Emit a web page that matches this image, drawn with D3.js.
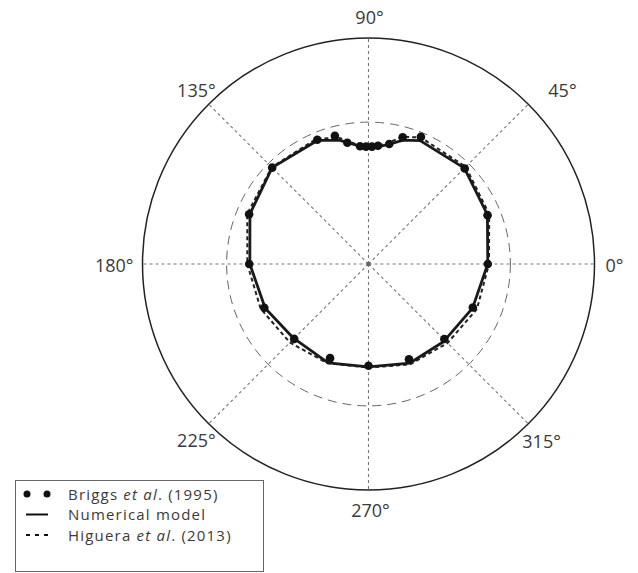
<!DOCTYPE html>
<html>
<head>
<meta charset="utf-8">
<script src="https://cdn.jsdelivr.net/npm/d3@7"></script>
<style>
  html, body { margin: 0; padding: 0; background: #fff; }
  svg { display: block; }
  text { font-family: "Open Sans", "Noto Sans", sans-serif; fill: #3a3a3a; }
</style>
</head>
<body>
<svg id="chart" width="638" height="573"></svg>
<script>
// Run-up contour around a conical island: horizontal radius (m) versus direction (deg)
const outerRadius = 3.6;      // island toe
const shorelineRadius = 2.26; // still-water shoreline
const gridAngles = [0, 45, 90, 135, 180, 225, 270, 315];
const gridLabels = ["0°", "45°", "90°", "135°", "180°", "225°", "270°", "315°"];

// Briggs et al. (1995) measurements
const briggsAngle = [0, 22.3, 44.8, 67.6, 74.9, 80.2, 85.4, 88.3, 91.2, 94.1, 99.9, 104.7, 112.4, 135,
                     157.4, 180, 202.8, 225.2, 247.8, 270, 293, 315.3, 337.4];
const briggsRunup = [1.90, 2.05, 2.16, 2.19, 2.09, 1.94, 1.89, 1.87, 1.87, 1.88, 1.96, 2.11, 2.14, 2.17,
                     2.06, 1.90, 1.80, 1.68, 1.62, 1.62, 1.65, 1.70, 1.80];

// Numerical model
const modelAngle = [0, 22.5, 45, 67.3, 74.3, 81.3, 89.6, 94.1, 103, 112.5, 135, 157.1, 180,
                    203.2, 224.7, 247.8, 270, 292.7, 313.9, 337];
const modelRunup = [1.90, 2.05, 2.16, 2.13, 2.05, 1.92, 1.84, 1.88, 2.02, 2.13, 2.17, 2.05, 1.89,
                    1.79, 1.68, 1.70, 1.64, 1.71, 1.72, 1.80];

// Higuera et al. (2013)
const higueraAngle = [0, 22.5, 45, 67.5, 75, 81, 90, 96, 103, 112.5, 135, 157.5, 180,
                      202.5, 225, 247.5, 270, 292.5, 315, 337.5];
const higueraRunup = [1.92, 2.08, 2.19, 2.18, 2.10, 1.95, 1.86, 1.92, 2.06, 2.16, 2.18, 2.09, 1.93,
                      1.86, 1.77, 1.71, 1.65, 1.73, 1.78, 1.87];

const legendLabels = [
  ["Briggs ", "et al", ". (1995)"],
  ["Numerical model", "", ""],
  ["Higuera ", "et al", ". (2013)"]
];

const svg = d3.select("#chart");
const cx = 368.5, cy = 264, R = 226;

const r = d3.scaleLinear().domain([0, outerRadius]).range([0, R]);
// d3 radial angle: clockwise from north; data angles are counter-clockwise from east
const toRad = deg => (90 - deg) * Math.PI / 180;

const g = svg.append("g").attr("transform", `translate(${cx},${cy})`);

// spokes
g.selectAll("line.spoke").data(gridAngles).join("line")
  .attr("class", "spoke")
  .attr("x1", 0).attr("y1", 0)
  .attr("x2", d => r(outerRadius) * Math.sin(toRad(d)))
  .attr("y2", d => -r(outerRadius) * Math.cos(toRad(d)))
  .attr("stroke", "#777").attr("stroke-width", 1.1)
  .attr("stroke-dasharray", "3,3");

// shoreline ring
g.append("circle").attr("r", r(shorelineRadius))
  .attr("fill", "none").attr("stroke", "#666").attr("stroke-width", 1)
  .attr("stroke-dasharray", "9,6");

// outer ring
g.append("circle").attr("r", r(outerRadius))
  .attr("fill", "none").attr("stroke", "#222").attr("stroke-width", 1.5);

// center marker
g.append("rect").attr("x", -2).attr("y", -2).attr("width", 4).attr("height", 4).attr("fill", "#666");

const radial = d3.lineRadial()
  .angle(d => toRad(d[0]))
  .radius(d => r(d[1]))
  .curve(d3.curveLinearClosed);

// Higuera et al. line
g.append("path")
  .datum(d3.zip(higueraAngle, higueraRunup))
  .attr("d", radial)
  .attr("fill", "none").attr("stroke", "#222").attr("stroke-width", 2)
  .attr("stroke-dasharray", "4,3");

// Numerical model line
g.append("path")
  .datum(d3.zip(modelAngle, modelRunup))
  .attr("d", radial)
  .attr("fill", "none").attr("stroke", "#1a1a1a").attr("stroke-width", 2.8)
  .attr("stroke-linejoin", "round");

// Briggs measurements
g.selectAll("circle.obs").data(d3.zip(briggsAngle, briggsRunup)).join("circle")
  .attr("class", "obs")
  .attr("cx", d => r(d[1]) * Math.sin(toRad(d[0])))
  .attr("cy", d => -r(d[1]) * Math.cos(toRad(d[0])))
  .attr("r", 4.3)
  .attr("fill", "#111");

// direction labels: placed just outside the ring, nudged per direction
const labelNudge = {
  0: [11, 8, "start"], 45: [20, -7, "start"], 90: [1, -14, "middle"], 135: [7, -7, "end"],
  180: [-9, 8, "end"], 225: [7, 23, "end"], 270: [2, 27, "middle"], 315: [-6, 24, "start"]
};
g.selectAll("text.dir").data(gridAngles).join("text")
  .attr("class", "dir")
  .attr("x", d => r(outerRadius) * Math.sin(toRad(d)) + labelNudge[d][0])
  .attr("y", d => -r(outerRadius) * Math.cos(toRad(d)) + labelNudge[d][1])
  .attr("text-anchor", d => labelNudge[d][2])
  .attr("font-size", 18)
  .text((d, i) => gridLabels[i]);

// legend
const lg = svg.append("g");
lg.append("rect").attr("x", 15.5).attr("y", 480.5).attr("width", 248).attr("height", 91)
  .attr("fill", "#fff").attr("stroke", "#666").attr("stroke-width", 1);

const rowY = [494, 514.5, 535];
const sx0 = 26, sx1 = 48, tx = 68;
// markers
lg.selectAll("circle.lgdot").data([sx0 + 1, sx1 - 1]).join("circle")
  .attr("cx", d => d).attr("cy", rowY[0]).attr("r", 3.5).attr("fill", "#111");
lg.append("line").attr("x1", sx0).attr("x2", sx1).attr("y1", rowY[1]).attr("y2", rowY[1])
  .attr("stroke", "#111").attr("stroke-width", 2);
lg.append("line").attr("x1", sx0).attr("x2", sx1).attr("y1", rowY[2]).attr("y2", rowY[2])
  .attr("stroke", "#111").attr("stroke-width", 2).attr("stroke-dasharray", "4,5");

legendLabels.forEach((parts, i) => {
  const t = lg.append("text").attr("x", tx).attr("y", rowY[i] + 5.5)
    .attr("font-size", 15).attr("letter-spacing", 1.2);
  t.append("tspan").text(parts[0]);
  if (parts[1]) t.append("tspan").attr("font-style", "italic").text(parts[1]);
  if (parts[2]) t.append("tspan").text(parts[2]);
});
</script>
</body>
</html>
